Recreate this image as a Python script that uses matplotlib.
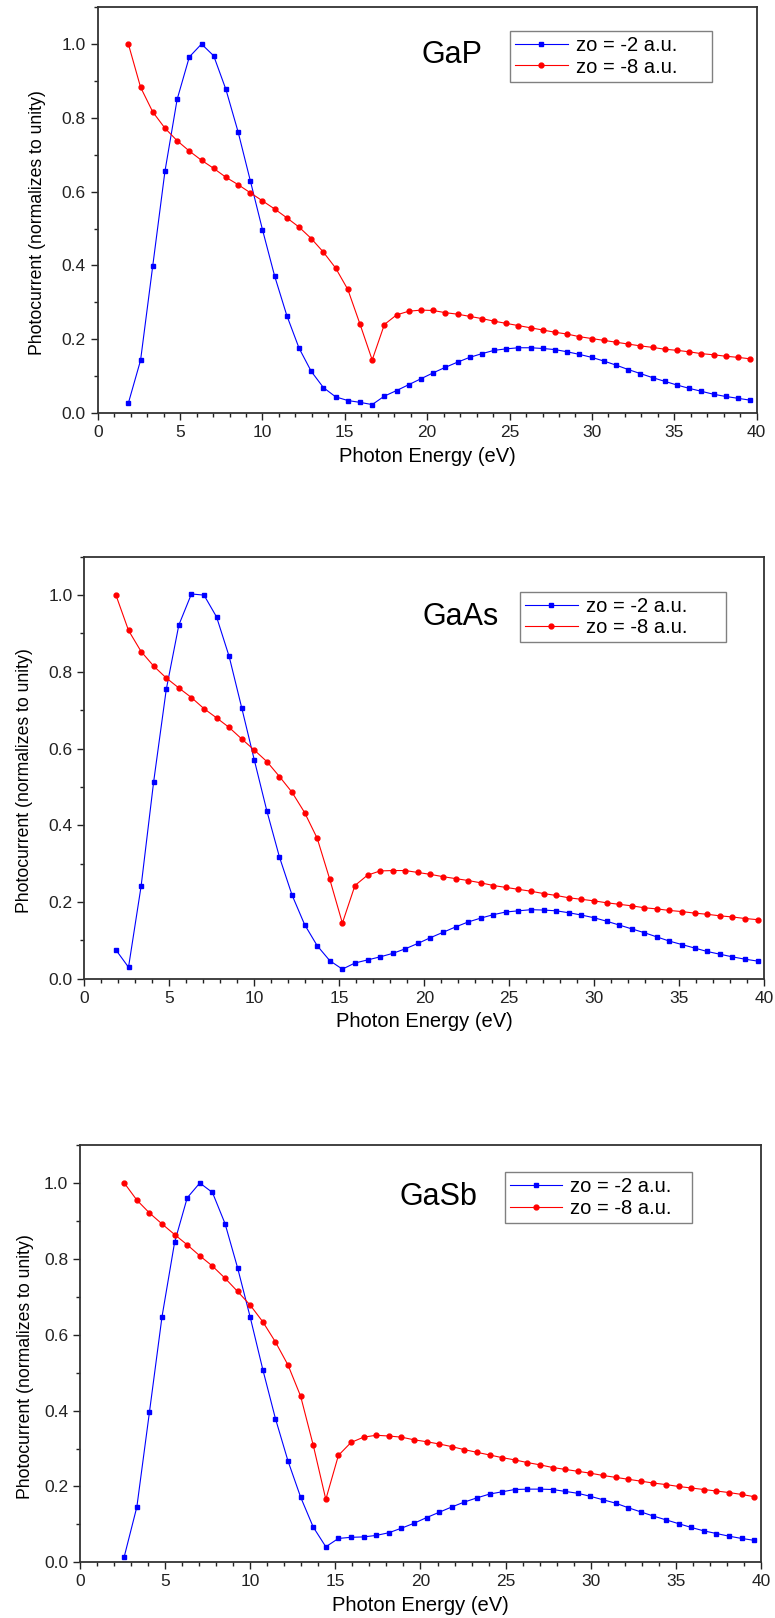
"""Normalized photocurrent versus photon energy for GaP, GaAs and GaSb."""

import matplotlib

matplotlib.use("Agg")
import matplotlib.pyplot as plt
from matplotlib.ticker import FormatStrFormatter, MultipleLocator

plt.rcParams["font.family"] = ["Liberation Sans", "DejaVu Sans"]

# photon energy grid (eV); GaSb starts one step later
energy = [
    1.86, 2.60, 3.34, 4.08, 4.82, 5.56, 6.30, 7.04, 7.78, 8.52,
    9.26, 10.00, 10.74, 11.48, 12.22, 12.96, 13.70, 14.44, 15.18, 15.92,
    16.66, 17.40, 18.14, 18.88, 19.62, 20.36, 21.10, 21.84, 22.58, 23.32,
    24.06, 24.80, 25.54, 26.28, 27.02, 27.76, 28.50, 29.24, 29.98, 30.72,
    31.46, 32.20, 32.94, 33.68, 34.42, 35.16, 35.90, 36.64, 37.38, 38.12,
    38.86, 39.60,
]

materials = ["GaP", "GaAs", "GaSb"]
series_labels = ["zo = -2 a.u.", "zo = -8 a.u."]

gap_z2 = [
    0.027, 0.143, 0.399, 0.655, 0.850, 0.965, 1.000, 0.968, 0.877, 0.762,
    0.630, 0.497, 0.371, 0.264, 0.176, 0.113, 0.069, 0.044, 0.034, 0.029,
    0.023, 0.046, 0.061, 0.077, 0.093, 0.109, 0.124, 0.138, 0.151, 0.161,
    0.170, 0.174, 0.177, 0.177, 0.175, 0.172, 0.166, 0.159, 0.151, 0.141,
    0.130, 0.118, 0.107, 0.096, 0.086, 0.076, 0.067, 0.059, 0.051, 0.045,
    0.040, 0.035,
]
gap_z8 = [
    1.000, 0.883, 0.816, 0.772, 0.738, 0.710, 0.685, 0.663, 0.639, 0.619,
    0.597, 0.575, 0.553, 0.529, 0.504, 0.473, 0.436, 0.393, 0.335, 0.241,
    0.144, 0.240, 0.266, 0.276, 0.279, 0.278, 0.272, 0.268, 0.262, 0.256,
    0.249, 0.243, 0.237, 0.231, 0.225, 0.219, 0.214, 0.207, 0.202, 0.197,
    0.192, 0.187, 0.182, 0.178, 0.173, 0.170, 0.166, 0.161, 0.158, 0.154,
    0.151, 0.147,
]

gaas_z2 = [
    0.075, 0.030, 0.241, 0.514, 0.754, 0.922, 1.003, 1.000, 0.943, 0.840,
    0.706, 0.570, 0.437, 0.317, 0.218, 0.141, 0.086, 0.047, 0.025, 0.041,
    0.049, 0.057, 0.066, 0.078, 0.092, 0.107, 0.121, 0.135, 0.148, 0.158,
    0.167, 0.174, 0.177, 0.180, 0.179, 0.177, 0.172, 0.166, 0.159, 0.150,
    0.140, 0.130, 0.120, 0.109, 0.098, 0.089, 0.080, 0.071, 0.064, 0.057,
    0.051, 0.046,
]
gaas_z8 = [
    1.000, 0.908, 0.853, 0.815, 0.784, 0.758, 0.733, 0.704, 0.680, 0.655,
    0.625, 0.596, 0.566, 0.527, 0.486, 0.433, 0.366, 0.259, 0.145, 0.243,
    0.270, 0.281, 0.282, 0.282, 0.277, 0.272, 0.266, 0.261, 0.256, 0.250,
    0.243, 0.238, 0.233, 0.228, 0.222, 0.217, 0.211, 0.207, 0.203, 0.198,
    0.194, 0.190, 0.185, 0.182, 0.178, 0.175, 0.171, 0.168, 0.164, 0.161,
    0.157, 0.154,
]

gasb_z2 = [
    0.015, 0.146, 0.396, 0.648, 0.844, 0.961, 1.000, 0.975, 0.893, 0.776,
    0.646, 0.508, 0.379, 0.267, 0.172, 0.093, 0.041, 0.063, 0.066, 0.067,
    0.071, 0.078, 0.090, 0.103, 0.118, 0.132, 0.146, 0.159, 0.170, 0.180,
    0.186, 0.192, 0.193, 0.193, 0.192, 0.187, 0.182, 0.174, 0.165, 0.156,
    0.144, 0.133, 0.122, 0.112, 0.102, 0.092, 0.083, 0.076, 0.069, 0.063,
    0.058,
]
gasb_z8 = [
    1.000, 0.955, 0.921, 0.892, 0.864, 0.837, 0.808, 0.781, 0.749, 0.714,
    0.678, 0.634, 0.581, 0.520, 0.438, 0.309, 0.166, 0.282, 0.316, 0.330,
    0.335, 0.333, 0.330, 0.323, 0.318, 0.312, 0.305, 0.297, 0.290, 0.283,
    0.276, 0.270, 0.263, 0.257, 0.250, 0.245, 0.240, 0.235, 0.229, 0.224,
    0.219, 0.214, 0.209, 0.205, 0.200, 0.196, 0.192, 0.188, 0.184, 0.179,
    0.173,
]


def main():
    fig = plt.figure(figsize=(7.75, 16.18), dpi=100)

    data = [
        (energy, gap_z2, gap_z8),
        (energy, gaas_z2, gaas_z8),
        (energy[1:], gasb_z2, gasb_z8),
    ]
    # axes rectangles, material label position, legend anchor (x, y, width)
    rects = [
        [0.1261, 0.7447, 0.8503, 0.2509],
        [0.1088, 0.3951, 0.8774, 0.2608],
        [0.1032, 0.0344, 0.8787, 0.2579],
    ]
    name_pos = [(0.537, 0.882), (0.554, 0.857), (0.527, 0.875)]
    legend_pos = [(0.626, 0.941, 0.306), (0.641, 0.917, 0.303), (0.624, 0.935, 0.275)]
    ylabel_x = [-0.078, -0.076, -0.068]

    for i, name in enumerate(materials):
        ax = fig.add_axes(rects[i])
        x, y2, y8 = data[i]
        ax.plot(x, y2, color="#0000ff", lw=0.8, marker="s", ms=3.3,
                label=series_labels[0])
        ax.plot(x, y8, color="#ff0000", lw=0.8, marker="o", ms=3.5,
                label=series_labels[1])

        ax.set_xlim(0, 40)
        ax.set_ylim(0, 1.1)
        ax.xaxis.set_major_locator(MultipleLocator(5))
        ax.xaxis.set_minor_locator(MultipleLocator(1))
        ax.yaxis.set_major_locator(MultipleLocator(0.2))
        ax.yaxis.set_minor_locator(MultipleLocator(0.1))
        ax.yaxis.set_major_formatter(FormatStrFormatter("%.1f"))
        ax.tick_params(which="both", direction="out", top=False, right=False,
                       color="#222222", width=1.0, labelsize=12.5,
                       labelcolor="#222222")
        ax.tick_params(which="major", length=5)
        ax.tick_params(which="minor", length=3)
        for spine in ax.spines.values():
            spine.set_linewidth(1.3)
            spine.set_color("#333333")

        ax.set_xlabel("Photon Energy (eV)", fontsize=14.5, labelpad=5)
        ax.set_ylabel("Photocurrent (normalizes to unity)", fontsize=12.7)
        ax.yaxis.set_label_coords(ylabel_x[i], 0.47)

        ax.text(*name_pos[i], name, transform=ax.transAxes, fontsize=22,
                ha="center", va="center")

        lx, ly, lw = legend_pos[i]
        leg = ax.legend(loc="upper left", bbox_to_anchor=(lx, ly, lw, 0),
                        mode="expand", borderaxespad=0, fontsize=14.5,
                        handlelength=2.6, handletextpad=0.4, borderpad=0.25,
                        labelspacing=0.12, fancybox=False, framealpha=1)
        leg.get_frame().set_edgecolor("#808080")
        leg.get_frame().set_linewidth(1.0)

    fig.savefig("out.png", dpi=100)


if __name__ == "__main__":
    main()
